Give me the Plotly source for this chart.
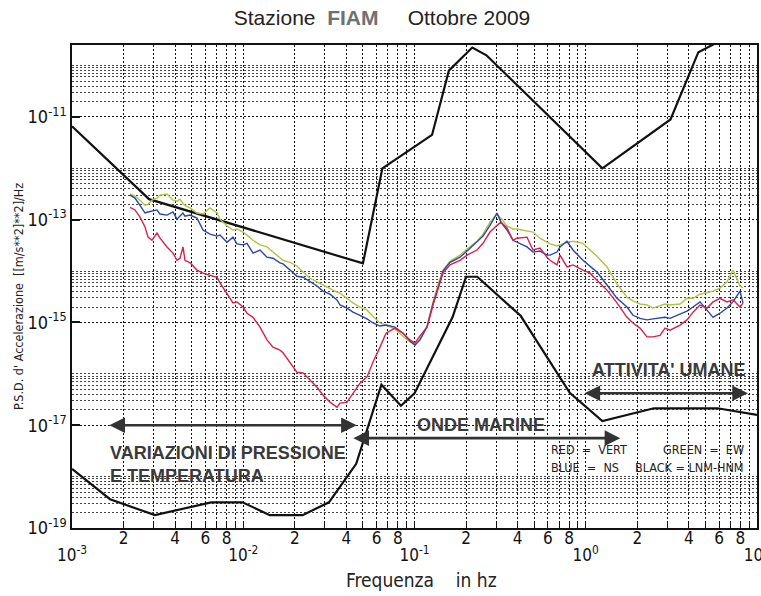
import math
import plotly.graph_objects as go

# Common frequency grid of the three component spectra (Hz)
FREQ_HZ = [
    0.002182, 0.002333, 0.002495, 0.002669, 0.002779, 0.002932, 0.003136, 0.003265, 0.003587, 0.003888,
    0.004102, 0.004272, 0.004447, 0.004569, 0.004887, 0.005369, 0.005821, 0.006393, 0.007025, 0.007314,
    0.00804, 0.00871, 0.00919, 0.00997, 0.01052, 0.01140, 0.01253, 0.01376, 0.01492, 0.01639,
    0.01707, 0.01875, 0.02060, 0.02233, 0.02453, 0.02696, 0.02921, 0.03210, 0.03527, 0.03673,
    0.04035, 0.04375, 0.04805, 0.05280, 0.05724, 0.06288, 0.06818, 0.0769, 0.08566, 0.0941,
    0.1007, 0.1077, 0.1183, 0.1282, 0.1372, 0.1467, 0.1612, 0.1843, 0.2026, 0.2317,
    0.2512, 0.2760, 0.3032, 0.3200, 0.3468, 0.3760, 0.3967, 0.4538, 0.4920, 0.5405,
    0.5939, 0.6183, 0.6793, 0.7072, 0.7771, 0.8424, 0.9636, 1.059, 1.163, 1.331,
    1.522, 1.741, 1.887, 2.074, 2.279, 2.470, 2.714, 2.903, 3.105, 3.551,
    3.901, 4.230, 4.646, 5.105, 5.535, 6.080, 6.680, 7.240, 7.957, 8.284,
]

# Acceleration PSD, dB rel. 1 (m/s^2)^2/Hz
PSD_VERT_DB = [
    -127.6, -128.1, -129.5, -131.4, -133.4, -134.0, -132.6, -133.6, -135.3, -136.5,
    -137.9, -137.5, -135.3, -137.9, -138.4, -139.8, -140.4, -140.8, -141.2, -142.3,
    -144.3, -146.2, -146.0, -147.0, -148.2, -149.0, -150.9, -153.4, -154.8, -155.4,
    -155.9, -157.7, -159.7, -159.8, -161.2, -162.6, -164.1, -165.5, -166.5, -165.7,
    -165.5, -163.7, -161.8, -160.6, -157.7, -154.8, -152.1, -151.1, -152.1, -153.4,
    -154.0, -152.6, -150.9, -146.6, -143.5, -140.4, -138.8, -137.9, -136.9, -135.9,
    -134.6, -132.4, -131.1, -130.5, -131.6, -134.0, -133.6, -133.4, -135.9, -135.5,
    -137.3, -137.9, -138.8, -136.9, -139.2, -138.8, -139.8, -140.4, -141.8, -143.7,
    -146.2, -149.0, -150.1, -151.1, -152.8, -152.8, -152.5, -151.1, -151.5, -150.5,
    -149.5, -148.0, -146.6, -147.2, -146.0, -145.3, -146.0, -145.6, -147.0, -146.2,
]
PSD_NS_DB = [
    -125.2, -125.8, -127.2, -128.7, -128.5, -128.3, -128.1, -128.9, -129.1, -128.5,
    -129.9, -129.3, -128.7, -129.3, -129.1, -129.7, -132.0, -132.8, -133.2, -133.0,
    -134.4, -133.4, -134.7, -134.9, -134.6, -136.5, -135.9, -137.3, -137.5, -138.4,
    -138.6, -139.8, -141.0, -141.2, -142.1, -142.9, -143.9, -144.5, -145.6, -146.6,
    -147.2, -148.0, -148.6, -149.3, -150.1, -150.7, -150.5, -150.9, -152.1, -153.6,
    -154.4, -153.4, -150.9, -146.4, -143.3, -140.0, -138.3, -137.3, -136.1, -134.4,
    -133.2, -131.1, -128.7, -130.5, -132.0, -134.0, -134.4, -135.3, -136.3, -136.1,
    -136.9, -136.9, -136.3, -135.3, -134.2, -135.9, -137.9, -139.0, -140.2, -142.7,
    -145.3, -147.0, -148.6, -149.2, -149.5, -149.3, -149.2, -149.0, -149.2, -148.4,
    -147.8, -147.0, -146.0, -147.6, -149.0, -148.2, -147.2, -146.0, -143.9, -146.2,
]
PSD_EW_DB = [
    -125.0, -125.4, -126.2, -127.2, -127.0, -126.2, -125.8, -125.2, -125.0, -126.2,
    -126.4, -126.0, -126.8, -127.2, -127.7, -128.7, -128.9, -127.7, -128.7, -129.9,
    -131.2, -132.0, -131.8, -132.4, -133.0, -134.0, -134.9, -135.3, -136.3, -137.5,
    -137.9, -138.3, -139.0, -140.2, -141.4, -142.1, -142.7, -143.5, -144.1, -144.3,
    -145.3, -146.2, -147.0, -147.6, -148.8, -150.1, -150.5, -151.3, -152.7, -153.8,
    -154.4, -153.2, -150.7, -146.0, -142.7, -139.8, -138.1, -136.9, -135.7, -134.2,
    -132.8, -130.5, -128.9, -129.7, -131.2, -131.8, -131.8, -132.2, -132.4, -133.6,
    -134.4, -134.7, -135.1, -134.9, -134.4, -134.2, -134.6, -135.9, -137.1, -139.2,
    -142.5, -145.1, -145.8, -146.4, -146.6, -147.2, -146.8, -146.4, -146.6, -146.4,
    -145.3, -145.3, -144.5, -144.1, -143.9, -143.3, -142.1, -139.8, -142.9, -143.3,
]

# Peterson new high / low noise models, breakpoints (Hz, dB)
NHNM_FREQ_HZ = [0.001, 0.002818, 0.05, 0.06494, 0.1266, 0.1587, 0.2174, 0.2632, 1.25, 3.125, 4.545, 10.0]
NHNM_DB = [-111.8, -126.0, -138.5, -120.0, -113.5, -101.0, -96.5, -98.0, -120.0, -110.5, -97.4, -91.5]
NLNM_FREQ_HZ = [0.001, 0.001667, 0.003049, 0.006494, 0.009901, 0.01429, 0.02222, 0.03165, 0.04566,
                0.0641, 0.08333, 0.1, 0.1667, 0.2, 0.2326, 0.4167, 0.8065, 1.25, 2.5, 5.882, 10.0]
NLNM_DB = [-178.5, -184.4, -187.5, -185.0, -185.0, -187.5, -187.5, -185.0, -177.5,
           -162.1, -166.2, -163.8, -149.0, -141.1, -141.1, -148.7, -163.7, -169.2, -166.7, -166.7, -168.0]

X_DECADES = [-3, -2, -1, 0, 1]
Y_LABEL_DECADES = [-19, -17, -15, -13, -11]
Y_BAND_DECADES = [-19, -17, -15, -13, -11]

assert len(FREQ_HZ) == len(PSD_VERT_DB) == len(PSD_NS_DB) == len(PSD_EW_DB)


def db_to_psd(values):
    return [10 ** (v / 10.0) for v in values]


TICK_FONT = "Liberation Sans Narrow, Arial Narrow, DejaVu Sans Condensed, sans-serif"
BOLD_FONT = "Liberation Sans, Arial, sans-serif"
NB = "\u00a0"

fig = go.Figure()

# Noise models
fig.add_trace(go.Scatter(x=NHNM_FREQ_HZ, y=db_to_psd(NHNM_DB), mode="lines",
                         line=dict(color="#111111", width=2.2), name="NHNM"))
fig.add_trace(go.Scatter(x=NLNM_FREQ_HZ, y=db_to_psd(NLNM_DB), mode="lines",
                         line=dict(color="#111111", width=2.2), name="NLNM"))

# Component spectra
fig.add_trace(go.Scatter(x=FREQ_HZ, y=db_to_psd(PSD_EW_DB), mode="lines",
                         line=dict(color="#b0c445", width=1.4), name="EW"))
fig.add_trace(go.Scatter(x=FREQ_HZ, y=db_to_psd(PSD_NS_DB), mode="lines",
                         line=dict(color="#2b45a8", width=1.4), name="NS"))
fig.add_trace(go.Scatter(x=FREQ_HZ, y=db_to_psd(PSD_VERT_DB), mode="lines",
                         line=dict(color="#dc1f4c", width=1.4), name="VERT"))

# x grid: every 1..9 x 10^k; only 2,4,6,8 labelled on the main axis
x_tickvals, x_ticktext = [], []
for k in X_DECADES:
    for m in range(1, 10):
        if k == 1 and m > 1:
            break
        x_tickvals.append(m * 10.0 ** k)
        x_ticktext.append(str(m) if m in (2, 4, 6, 8) else "")

# decade labels sit one row lower, on an overlaid axis
x_decade_vals = [10.0 ** k for k in X_DECADES]
x_decade_text = ["10<sup>%d</sup>" % k for k in X_DECADES]

y_tickvals = [10.0 ** k for k in Y_LABEL_DECADES]
y_ticktext = ["10<sup>%d</sup>" % k for k in Y_LABEL_DECADES]

# unlabelled decades and the dense minor lines of alternate decades
y_minor = [10.0 ** (k + 1) for k in Y_LABEL_DECADES]
for k in Y_BAND_DECADES:
    for m in range(2, 10):
        y_minor.append(m * 10.0 ** k)

fig.update_layout(
    xaxis=dict(
        type="log", range=[-3, 1], automargin=False,
        tickmode="array", tickvals=x_tickvals, ticktext=x_ticktext, tickangle=0,
        ticks="inside", ticklen=7, tickcolor="#111", tickwidth=1,
        showgrid=True, gridcolor="#111", gridwidth=1, griddash="2px,2px",
        showline=True, linecolor="#111", linewidth=1.5, mirror=True,
        ticklabelstandoff=-6,
        tickfont=dict(family=TICK_FONT, size=17, color="#111"),
        zeroline=False,
    ),
    xaxis2=dict(
        type="log", range=[-3, 1], overlaying="x", matches="x", anchor="y", side="bottom",
        automargin=False,
        tickmode="array", tickvals=x_decade_vals, ticktext=x_decade_text, tickangle=0,
        ticks="", showgrid=False, showline=False, zeroline=False,
        ticklabelstandoff=15, ticklabeloverflow="allow",
        tickfont=dict(family=TICK_FONT, size=17, color="#111"),
    ),
    yaxis=dict(
        type="log", range=[-19, -9.6], automargin=False,
        tickmode="array", tickvals=y_tickvals, ticktext=y_ticktext,
        ticks="inside", ticklen=8, tickcolor="#111", tickwidth=1.5,
        showgrid=True, gridcolor="#111", gridwidth=1, griddash="2px,2px",
        minor=dict(tickvals=y_minor, showgrid=True, gridcolor="#444", gridwidth=1,
                   griddash="2px,2px", ticks=""),
        showline=True, linecolor="#111", linewidth=1.5, mirror=True,
        tickfont=dict(family=TICK_FONT, size=18, color="#111"),
        zeroline=False,
    ),
)

# invisible carrier so the overlaid decade axis is drawn
fig.add_trace(go.Scatter(x=[NLNM_FREQ_HZ[0]], y=[db_to_psd(NLNM_DB)[0]], xaxis="x2",
                         mode="markers", marker=dict(opacity=0), hoverinfo="skip",
                         name="decades"))

annotations = []


def band_arrow(f0, f1, psd):
    """Double-headed arrow spanning a frequency band at a given PSD level."""
    return dict(
        x=math.log10(f1), y=math.log10(psd), ax=math.log10(f0), ay=math.log10(psd),
        xref="x", yref="y", axref="x", ayref="y", text="", showarrow=True,
        arrowhead=2, startarrowhead=2, arrowside="end+start", arrowsize=1.2,
        arrowwidth=2.6, arrowcolor="#333333", standoff=0, startstandoff=0,
    )


annotations.append(band_arrow(0.00162, 0.046, 1e-17))
annotations.append(band_arrow(0.0431, 1.59, 5.6e-18))
annotations.append(band_arrow(0.964, 8.85, 4.2e-17))

band_font = dict(family=BOLD_FONT, size=18, color="#3a3a3a")
annotations.append(dict(x=math.log10(0.00162), y=-17.77, xref="x", yref="y",
                        text="<b>VARIAZIONI DI PRESSIONE<br>E TEMPERATURA</b>",
                        showarrow=False, xanchor="left", yanchor="middle", align="left",
                        font=band_font))
annotations.append(dict(x=math.log10(0.1), y=-17.0, xref="x", yref="y",
                        text="<b>ONDE MARINE</b>", showarrow=False,
                        xanchor="left", yanchor="middle", font=band_font))
annotations.append(dict(x=math.log10(1.06), y=-15.93, xref="x", yref="y",
                        text="<b>ATTIVITA' UMANE</b>", showarrow=False,
                        xanchor="left", yanchor="middle", font=band_font))

key_font = dict(family=TICK_FONT, size=12.5, color="#222")
sep = NB * 2 + "=" + NB * 2
annotations.append(dict(x=math.log10(0.61), y=-17.48, xref="x", yref="y",
                        text="RED" + sep + "VERT", showarrow=False, xanchor="left",
                        yanchor="middle", font=key_font))
annotations.append(dict(x=math.log10(8.6), y=-17.48, xref="x", yref="y",
                        text="GREEN" + sep + "EW", showarrow=False, xanchor="right",
                        yanchor="middle", font=key_font))
annotations.append(dict(x=math.log10(0.61), y=-17.83, xref="x", yref="y",
                        text="BLUE" + sep + "NS", showarrow=False, xanchor="left",
                        yanchor="middle", font=key_font))
annotations.append(dict(x=math.log10(8.6), y=-17.83, xref="x", yref="y",
                        text="BLACK" + NB + "=" + NB + "LNM-HNM", showarrow=False, xanchor="right",
                        yanchor="middle", font=key_font))

# axis titles
annotations.append(dict(x=-0.079, y=0.48, xref="paper", yref="paper",
                        text="P.S.D. d' Accelerazione  [[m/s**2]**2]/Hz",
                        textangle=-90, showarrow=False, xanchor="center", yanchor="middle",
                        font=dict(family=TICK_FONT, size=12.5, color="#222")))
annotations.append(dict(x=0.51, y=-0.107, xref="paper", yref="paper",
                        text="Frequenza" + NB * 3 + " in hz", showarrow=False,
                        xanchor="center", yanchor="middle",
                        font=dict(family=TICK_FONT, size=19, color="#222")))

fig.update_layout(
    width=761, height=596,
    margin=dict(l=72, r=4, t=45, b=68),
    paper_bgcolor="white", plot_bgcolor="white",
    showlegend=False,
    title=dict(
        text="Stazione" + NB + " <b><span style='color:#707070'>FIAM</span></b>" + NB * 4 + " Ottobre 2009",
        x=0.4526, xref="paper", xanchor="center",
        y=0.97, yref="container", yanchor="middle",
        font=dict(family="Liberation Sans, Arial, sans-serif", size=21, color="#222"),
    ),
    annotations=annotations,
)

fig.write_html("out.html")
